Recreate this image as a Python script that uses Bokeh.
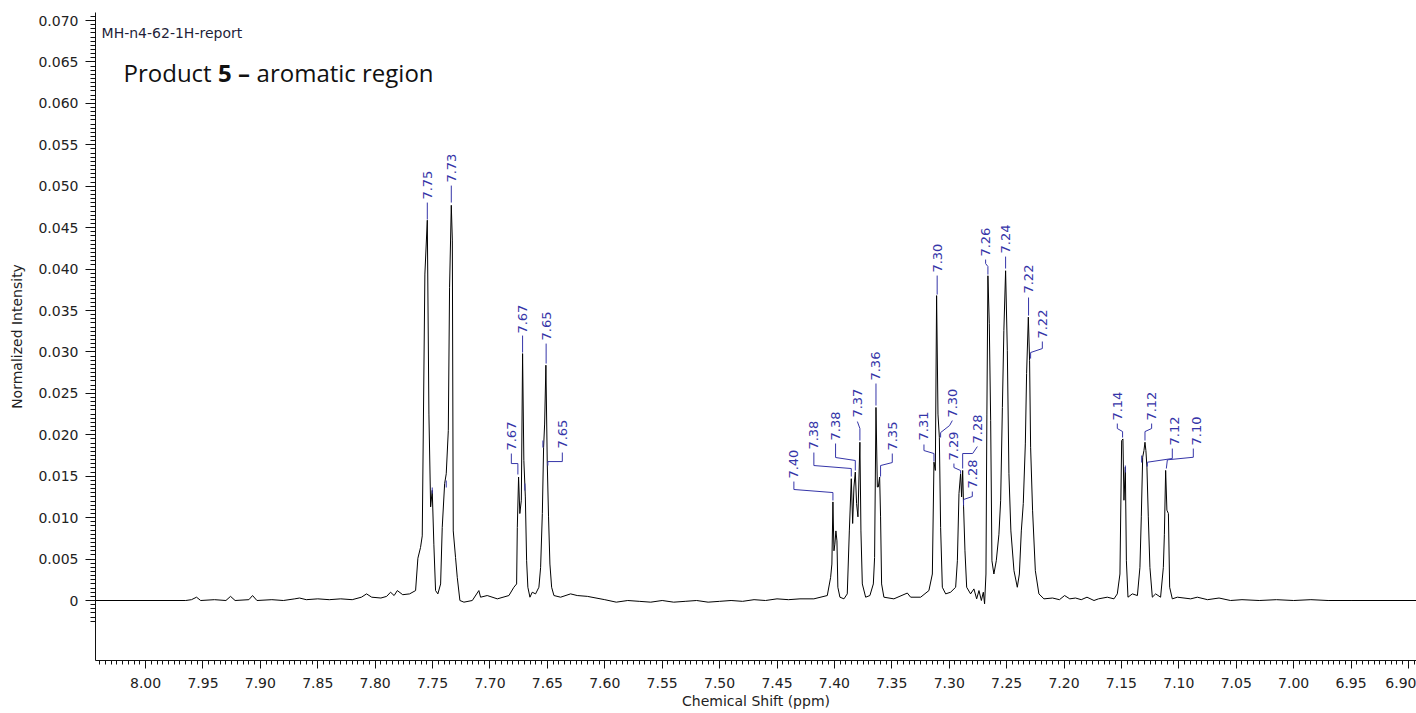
import numpy as np
from bokeh.plotting import figure
from bokeh.models import Range1d, FixedTicker, Label, PrintfTickFormatter, ColumnDataSource
from bokeh.embed import file_html
from bokeh.resources import INLINE
from bokeh.core.properties import value

# ---- 1H NMR trace (chemical shift in ppm, normalized intensity) ----
shift_ppm = [
    8.0436, 7.9650, 7.9600, 7.9556, 7.9520, 7.9400, 7.9300, 7.9260, 7.9220, 7.9100,
    7.9068, 7.9030, 7.8900, 7.8800, 7.8700, 7.8659, 7.8600, 7.8500, 7.8400, 7.8300,
    7.8200, 7.8120, 7.8075, 7.8030, 7.7950, 7.7900, 7.7866, 7.7835, 7.7807, 7.7760,
    7.7700,
    # 7.75 / 7.73
    7.7648, 7.7628, 7.7605, 7.7590, 7.7567, 7.7546, 7.7532, 7.7517, 7.7503, 7.7489,
    7.7474, 7.7454, 7.7430, 7.7416, 7.7395, 7.7381, 7.7363, 7.7352, 7.7337, 7.7328,
    7.7320, 7.7300, 7.7285, 7.7262, 7.7227, 7.7154, 7.7097, 7.7082, 7.7024, 7.6936,
    7.6835,
    # 7.67 / 7.65
    7.6792, 7.6768, 7.6762, 7.6751, 7.6740, 7.6727, 7.6716, 7.6705, 7.6692, 7.6681,
    7.6670, 7.6652, 7.6632, 7.6603, 7.6574, 7.6559, 7.6544, 7.6533, 7.6524, 7.6513,
    7.6501, 7.6490, 7.6478, 7.6463, 7.6443, 7.6385, 7.6298, 7.6240, 7.6152,
    7.6000, 7.5900, 7.5800, 7.5700, 7.5600, 7.5500, 7.5400, 7.5300, 7.5200, 7.5100,
    7.5000, 7.4900, 7.4800, 7.4700, 7.4600, 7.4500, 7.4400, 7.4300, 7.4179,
    # 7.40 - 7.35
    7.4062, 7.4033, 7.4022, 7.4013, 7.4004, 7.3996, 7.3987, 7.3978, 7.3970, 7.3952,
    7.3917, 7.3888, 7.3870, 7.3853, 7.3841, 7.3830, 7.3818, 7.3807, 7.3795, 7.3778,
    7.3769, 7.3757, 7.3728, 7.3691, 7.3661, 7.3650, 7.3638, 7.3626, 7.3618, 7.3606,
    7.3598, 7.3589, 7.3569, 7.3482, 7.3365, 7.3336,
    # 7.31 - 7.22
    7.3249, 7.3177, 7.3147, 7.3133, 7.3121, 7.3110, 7.3098, 7.3086, 7.3075, 7.3060,
    7.3031, 7.2988, 7.2944, 7.2929, 7.2915, 7.2901, 7.2892, 7.2883, 7.2875, 7.2863,
    7.2848, 7.2814, 7.2785, 7.2761, 7.2741, 7.2720, 7.2703, 7.2692, 7.2680, 7.2672,
    7.2663, 7.2651, 7.2639, 7.2628, 7.2611, 7.2590, 7.2567, 7.2552, 7.2537, 7.2524,
    7.2509, 7.2494, 7.2480, 7.2463, 7.2436, 7.2407, 7.2389, 7.2372, 7.2355, 7.2337,
    7.2326, 7.2311, 7.2300, 7.2291, 7.2274, 7.2250, 7.2219, 7.2175,
    7.2100, 7.2040, 7.1995, 7.1950, 7.1900, 7.1850, 7.1800, 7.1739, 7.1700, 7.1623,
    7.1565,
    # 7.14 - 7.10
    7.1536, 7.1513, 7.1498, 7.1487, 7.1478, 7.1466, 7.1457, 7.1443, 7.1405, 7.1361,
    7.1339, 7.1327, 7.1315, 7.1304, 7.1295, 7.1287, 7.1278, 7.1266, 7.1252, 7.1231,
    7.1202, 7.1159, 7.1135, 7.1126, 7.1115, 7.1104, 7.1091, 7.1080, 7.1057, 7.1013,
    7.0897, 7.0839,
    7.0750, 7.0650, 7.0550, 7.0450, 7.0300, 7.0150, 7.0000, 6.9850, 6.9700, 6.9500,
    6.8930,
]

intensity = [
    0.0000, 0.0000, 0.0001, 0.0004, 0.0000, 0.0001, 0.0000, 0.0005, 0.0000, 0.0001,
    0.0006, 0.0000, 0.0001, 0.0000, 0.0002, 0.0003, 0.0001, 0.0002, 0.0001, 0.0002,
    0.0001, 0.0004, 0.0008, 0.0004, 0.0003, 0.0005, 0.0010, 0.0006, 0.0012, 0.0007,
    0.0008,
    0.0012, 0.0051, 0.0064, 0.0078, 0.0394, 0.0459, 0.0225, 0.0113, 0.0133, 0.0068,
    0.0012, 0.0008, 0.0020, 0.0088, 0.0141, 0.0153, 0.0205, 0.0378, 0.0477, 0.0435,
    0.0084, 0.0052, 0.0028, 0.0000, -0.0002, 0.0000, 0.0012, 0.0004, 0.0006, 0.0002,
    0.0006,
    0.0016, 0.0020, 0.0088, 0.0149, 0.0105, 0.0121, 0.0298, 0.0169, 0.0125, 0.0048,
    0.0016, 0.0004, 0.0010, 0.0008, 0.0016, 0.0040, 0.0105, 0.0185, 0.0213, 0.0284,
    0.0165, 0.0101, 0.0044, 0.0016, 0.0006, 0.0004, 0.0008, 0.0006, 0.0005,
    0.0001, -0.0002, 0.0000, -0.0001, -0.0002, 0.0000, -0.0002, -0.0001, 0.0000, -0.0002,
    -0.0001, 0.0000, -0.0001, 0.0001, 0.0000, 0.0002, 0.0001, 0.0002, 0.0002,
    0.0006, 0.0028, 0.0044, 0.0119, 0.0060, 0.0068, 0.0084, 0.0072, 0.0016, 0.0004,
    0.0002, 0.0008, 0.0084, 0.0147, 0.0093, 0.0137, 0.0155, 0.0117, 0.0101, 0.0191,
    0.0084, 0.0020, 0.0004, 0.0006, 0.0020, 0.0052, 0.0233, 0.0137, 0.0137, 0.0149,
    0.0101, 0.0020, 0.0004, 0.0002, 0.0009, 0.0004,
    0.0004, 0.0012, 0.0032, 0.0167, 0.0157, 0.0368, 0.0225, 0.0197, 0.0088, 0.0016,
    0.0008, 0.0010, 0.0016, 0.0048, 0.0129, 0.0153, 0.0125, 0.0157, 0.0113, 0.0060,
    0.0016, 0.0008, 0.0014, 0.0002, 0.0012, 0.0000, 0.0010, -0.0004, 0.0032, 0.0225,
    0.0392, 0.0334, 0.0217, 0.0048, 0.0032, 0.0048, 0.0080, 0.0121, 0.0233, 0.0326,
    0.0398, 0.0302, 0.0153, 0.0084, 0.0036, 0.0016, 0.0032, 0.0084, 0.0117, 0.0189,
    0.0274, 0.0342, 0.0290, 0.0185, 0.0109, 0.0036, 0.0008, 0.0002,
    0.0003, 0.0001, 0.0006, 0.0002, 0.0003, 0.0001, 0.0004, 0.0000, 0.0002, 0.0004,
    0.0002,
    0.0008, 0.0032, 0.0193, 0.0195, 0.0121, 0.0161, 0.0048, 0.0004, 0.0008, 0.0006,
    0.0040, 0.0101, 0.0173, 0.0181, 0.0191, 0.0181, 0.0161, 0.0101, 0.0040, 0.0004,
    0.0008, 0.0004, 0.0040, 0.0080, 0.0157, 0.0109, 0.0105, 0.0016, 0.0002, 0.0004,
    0.0002, 0.0004,
    0.0001, 0.0003, 0.0000, 0.0001, 0.0000, 0.0001, 0.0000, 0.0001, 0.0000, 0.0000,
    0.0000,
]

# ---- picked peaks: label text ----
peak_text = ["7.75", "7.73", "7.67", "7.65", "7.67", "7.65", "7.40", "7.38", "7.38",
             "7.37", "7.36", "7.35", "7.30", "7.31", "7.30", "7.29", "7.28", "7.28",
             "7.26", "7.24", "7.22", "7.22", "7.14", "7.12", "7.12", "7.10"]

# ---- axis tick labels ----
x_tick_labels = ["8.00", "7.95", "7.90", "7.85", "7.80", "7.75", "7.70", "7.65",
                 "7.60", "7.55", "7.50", "7.45", "7.40", "7.35", "7.30", "7.25",
                 "7.20", "7.15", "7.10", "7.05", "7.00", "6.95", "6.90"]
y_tick_labels = ["0", "0.005", "0.010", "0.015", "0.020", "0.025", "0.030", "0.035",
                 "0.040", "0.045", "0.050", "0.055", "0.060", "0.065", "0.070"]

# ---- label placement (text anchor = bottom of the rotated text) ----
label_anchor_x = [7.7546, 7.7337, 7.6716, 7.6511, 7.6814, 7.6370, 7.4353, 7.4179, 7.3990,
                  7.3800, 7.3638, 7.3496, 7.3105, 7.3220, 7.2973, 7.2959, 7.2755, 7.2799,
                  7.2683, 7.2509, 7.2309, 7.2189, 7.1536, 7.1237, 7.1037, 7.0845]
label_anchor_y = [0.04839, 0.05044, 0.03222, 0.03138, 0.01810, 0.01834, 0.01472, 0.01822,
                  0.01931, 0.02208, 0.02655, 0.01810, 0.03958, 0.01931, 0.02208, 0.01690,
                  0.01895, 0.01352, 0.04151, 0.04188, 0.03705, 0.03162, 0.02172, 0.02172,
                  0.01871, 0.01871]
leader_xs = [
    [7.7546, 7.7546], [7.7337, 7.7337], [7.6716, 7.6716], [7.6511, 7.6511],
    [7.6814, 7.6814, 7.6757, 7.6757], [7.6370, 7.6370, 7.6496, 7.6496],
    [7.4353, 7.4353, 7.4013, 7.4013], [7.4179, 7.4179, 7.3853, 7.3853],
    [7.3990, 7.3990, 7.3818, 7.3818], [7.3800, 7.3778, 7.3778], [7.3638, 7.3638],
    [7.3496, 7.3496, 7.3598, 7.3598], [7.3105, 7.3105], [7.3220, 7.3220, 7.3133, 7.3133],
    [7.2973, 7.2997, 7.3075, 7.3075], [7.2959, 7.2959, 7.2901, 7.2901],
    [7.2755, 7.2796, 7.2883, 7.2883], [7.2799, 7.2799, 7.2875, 7.2875],
    [7.2683, 7.2683, 7.2663, 7.2663], [7.2509, 7.2509], [7.2309, 7.2309],
    [7.2189, 7.2189, 7.2291, 7.2291], [7.1536, 7.1536, 7.1490, 7.1490],
    [7.1237, 7.1237, 7.1295, 7.1295], [7.1057, 7.1057, 7.1274, 7.1274],
    [7.0874, 7.0874, 7.1100, 7.1109],
]
leader_ys = [
    [0.04803, 0.04598], [0.05008, 0.04803], [0.03198, 0.02993], [0.03101, 0.02860],
    [0.01774, 0.01653, 0.01653, 0.01521], [0.01786, 0.01677, 0.01677, 0.01629],
    [0.01436, 0.01340, 0.01303, 0.01207], [0.01786, 0.01629, 0.01593, 0.01496],
    [0.01895, 0.01726, 0.01690, 0.01569], [0.02160, 0.02076, 0.01931], [0.02619, 0.02353],
    [0.01774, 0.01665, 0.01629, 0.01496], [0.03922, 0.03693], [0.01883, 0.01810, 0.01774, 0.01677],
    [0.02172, 0.02112, 0.02027, 0.01967], [0.01653, 0.01605, 0.01569, 0.01533],
    [0.01858, 0.01774, 0.01774, 0.01593], [0.01315, 0.01255, 0.01219, 0.01146],
    [0.04115, 0.04067, 0.04031, 0.03934], [0.04151, 0.04007], [0.03657, 0.03439],
    [0.03126, 0.03041, 0.02993, 0.02920], [0.02136, 0.02076, 0.02039, 0.01967],
    [0.02136, 0.02076, 0.02039, 0.01931], [0.01834, 0.01714, 0.01669, 0.01617],
    [0.01834, 0.01729, 0.01698, 0.01593],
]
# short unlabelled peak markers
marker_xs = [[7.7503, 7.7503], [7.7381, 7.7381], [7.6696, 7.6696],
             [7.6539, 7.6539], [7.1466, 7.1466], [7.1324, 7.1324]]
marker_ys = [[0.01364, 0.01291], [0.01448, 0.01364], [0.01412, 0.01327],
             [0.01931, 0.01846], [0.01629, 0.01545], [0.01750, 0.01665]]

AXIS_FONT = "DejaVu Sans"
TEXT_COLOR = "#222222"
LABEL_BLUE = "#3535a8"

p = figure(width=1416, height=713, output_backend="svg", toolbar_location=None,
           x_range=Range1d(8.0436, 6.893), y_range=Range1d(-0.00724, 0.07097),
           min_border_left=95, min_border_right=0, min_border_top=12, min_border_bottom=53)
p.outline_line_color = None
p.xgrid.visible = False
p.ygrid.visible = False
p.background_fill_color = "white"
p.border_fill_color = "white"

# spectrum
p.line(shift_ppm, intensity, line_color="black", line_width=1)

# peak labels
p.multi_line(xs=leader_xs, ys=leader_ys, line_color=LABEL_BLUE, line_width=1)
p.multi_line(xs=marker_xs, ys=marker_ys, line_color=LABEL_BLUE, line_width=1)
src = ColumnDataSource(dict(x=label_anchor_x, y=label_anchor_y, t=peak_text))
p.text(x="x", y="y", text="t", source=src, angle=np.pi / 2,
       text_font=value(AXIS_FONT), text_font_size="13px", text_color=LABEL_BLUE,
       text_align="left", text_baseline="middle")

# axes
x_ticks = [float(s) for s in x_tick_labels]
y_ticks = [float(s) for s in y_tick_labels]
p.xaxis.ticker = FixedTicker(ticks=x_ticks,
                             minor_ticks=list(np.round(np.arange(6.895, 8.0405, 0.005), 3)))
p.yaxis.ticker = FixedTicker(ticks=y_ticks,
                             minor_ticks=list(np.round(np.arange(-0.0025, 0.0706, 0.0005), 4)))
p.xaxis.formatter = PrintfTickFormatter(format="%.2f")
p.yaxis.formatter = PrintfTickFormatter(format="%.3f")
p.yaxis.major_label_overrides = {0: y_tick_labels[0]}

for ax in (p.xaxis[0], p.yaxis[0]):
    ax.axis_line_color = "#111111"
    ax.major_tick_line_color = "#111111"
    ax.minor_tick_line_color = "#111111"
    ax.major_tick_in = 0
    ax.minor_tick_in = 0
    ax.major_label_text_font = AXIS_FONT
    ax.major_label_text_font_size = "14px"
    ax.major_label_text_color = TEXT_COLOR
    ax.axis_label_text_font = AXIS_FONT
    ax.axis_label_text_font_size = "14px"
    ax.axis_label_text_font_style = "normal"
    ax.axis_label_text_color = TEXT_COLOR

p.xaxis.axis_label = "Chemical Shift (ppm)"
p.xaxis.major_tick_out = 8
p.xaxis.minor_tick_out = 4
p.xaxis.major_label_standoff = 9
p.xaxis.axis_label_standoff = 2

p.yaxis.axis_label = "Normalized Intensity"
p.yaxis.major_tick_out = 10
p.yaxis.minor_tick_out = 5
p.yaxis.major_label_standoff = 7
p.yaxis.axis_label_standoff = 10

# headings
p.add_layout(Label(x=8.0383, y=0.06855, text="MH-n4-62-1H-report", text_baseline="alphabetic",
                   text_font=AXIS_FONT, text_font_size="14px", text_color="#1f1f3a"))
p.add_layout(Label(x=8.0192, y=0.06372, text="Product", text_baseline="alphabetic",
                   text_font="Open Sans", text_font_size="24px", text_color="#111111"))
p.add_layout(Label(x=7.9368, y=0.06372, text="5 \u2013", text_baseline="alphabetic",
                   text_font="Open Sans", text_font_size="24px", text_font_style="bold",
                   text_color="#111111"))
p.add_layout(Label(x=7.9033, y=0.06372, text="aromatic region", text_baseline="alphabetic",
                   text_font="Open Sans", text_font_size="24px", text_color="#111111"))

open("out.html", "w").write(file_html(p, INLINE))
